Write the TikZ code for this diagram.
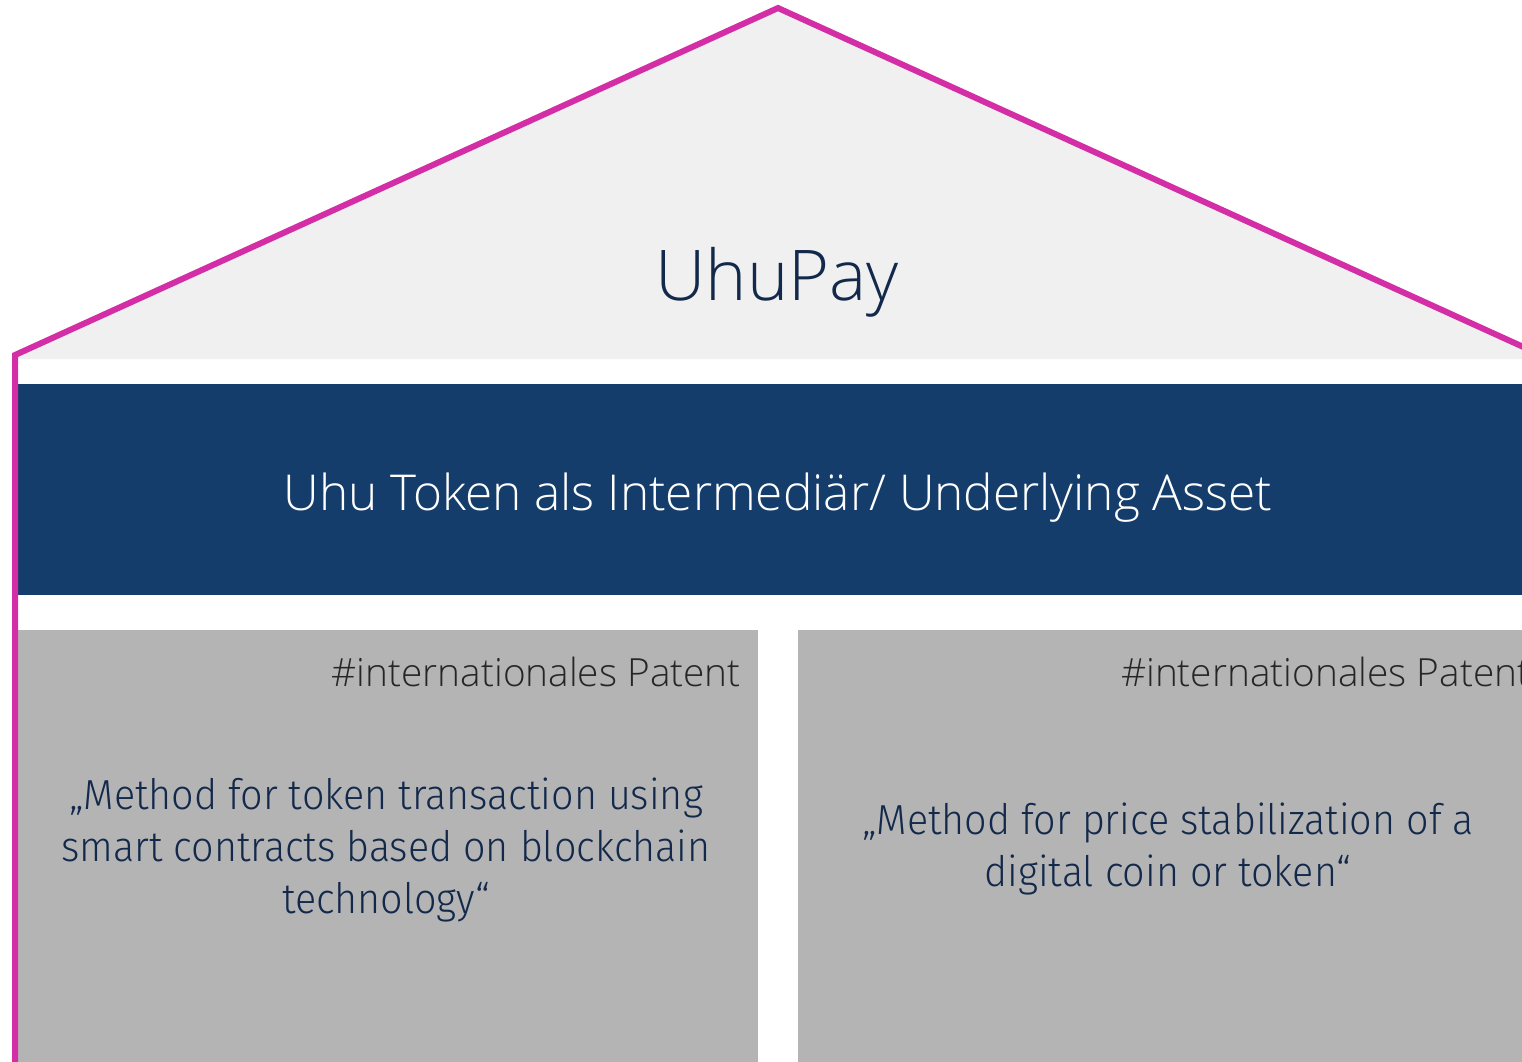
\documentclass[tikz,border=0pt]{standalone}
\usepackage{fontspec}
\setmainfont{Open Sans}[UprightFont=* Light]
\newfontfamily\condf{Fira Sans}[UprightFont=* Light,FakeStretch=0.94]
\definecolor{roofpink}{HTML}{D42EA7}
\definecolor{roofgray}{HTML}{F0F0F0}
\definecolor{bandblue}{HTML}{143D6B}
\definecolor{boxgray}{HTML}{B4B4B4}
\definecolor{navytext}{HTML}{13294B}
\tikzset{
  boxfill/.style={fill=boxgray, draw=none},
  patentlabel/.style={anchor=base east, inner sep=0pt, font=\fontsize{38.8}{44}\selectfont, text=black!85},
  quotetext/.style={align=center, inner sep=0pt, font=\condf\fontsize{42}{52}\selectfont, text=navytext}
}
\begin{document}
\begin{tikzpicture}[x=1pt,y=-1pt]
\useasboundingbox (0,0) rectangle (1522,1061);
\clip (0,0) rectangle (1522,1061);
% roof fill
\fill[roofgray] (15,355) -- (778,8) -- (1541,355) -- (1541,359) -- (15,359) -- cycle;
% band
\fill[bandblue] (18,384) rectangle (1530,595);
% boxes
\fill[boxgray] (18,630) rectangle (758,1070);
\fill[boxgray] (798,630) rectangle (1530,1070);
% outline
\coordinate (base) at (15,1070);
\coordinate (eaveL) at (15,355);
\coordinate (apex) at (778,8);
\coordinate (eaveR) at (1541,355);
\draw[roofpink, line width=6pt, line join=miter] (base) -- (eaveL) -- (apex) -- (eaveR);
% texts
\node[anchor=base, inner sep=0pt, font=\fontsize{70}{80}\selectfont, text=navytext] (title) at (777,300) {UhuPay};
\node[anchor=base, inner sep=0pt, font=\fontsize{49.5}{56}\selectfont, text=white] (band) at (778,510) {Uhu Token als Intermediär/ Underlying Asset};
\node[patentlabel] (patL) at (741,686) {\#internationales Patent};
\node[patentlabel, anchor=base west] (patR) at (1121,686) {\#internationales Patent};
\node[quotetext] (qL) at (386,850) {„Method for token transaction using\\smart contracts based on blockchain\\technology“};
\node[quotetext] (qR) at (1168,849) {„Method for price stabilization of a\\digital coin or token“};
\end{tikzpicture}
\end{document}
